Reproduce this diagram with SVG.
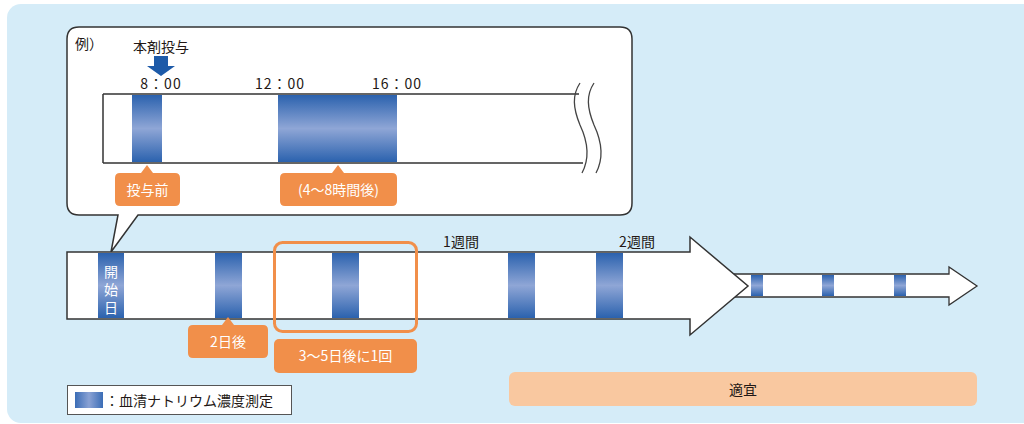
<svg xmlns="http://www.w3.org/2000/svg" width="1024" height="424" viewBox="0 0 1024 424">
<defs>
<linearGradient id="bg" x1="0" y1="0" x2="0" y2="1">
<stop offset="0" stop-color="#2b62ae"/>
<stop offset="0.5" stop-color="#8fa6d6"/>
<stop offset="1" stop-color="#2b62ae"/>
</linearGradient>
<linearGradient id="lg" x1="0" y1="0" x2="1" y2="0">
<stop offset="0" stop-color="#3b6db6"/>
<stop offset="0.5" stop-color="#8aa2d4"/>
<stop offset="1" stop-color="#3b6db6"/>
</linearGradient>
<style>
text{font-family:"Noto Sans CJK JP","Noto Sans",sans-serif;}
.t{fill:#231815;font-size:14px;}
.w{fill:#ffffff;font-size:14px;}
.ln{fill:none;stroke:#333;stroke-width:1.5;}
.seg{fill:url(#bg);}
.lab{fill:#f18f4a;}
</style>
</defs>
<rect x="7" y="4" width="1040" height="419" rx="14" fill="#d5ecf8"/>

<g id="callout">
<path d="M79,27 H620 Q632,27 632,39 V203 Q632,215 620,215 H138 L111,252 L118,215 H79 Q67,215 67,203 V39 Q67,27 79,27 Z" fill="#fff" stroke="#333" stroke-width="1.5"/>
<text x="75" y="49" class="t" font-size="12">例）</text>
</g>

<g id="inner-bar">
<path d="M103,94 H579 C573,100 573,110 580,125 C588,142 588,155 583,163 H103 Z" fill="#fff"/>
<path d="M103,94 H579 M103,163 H583 M103,94 V163" class="ln"/>
<rect x="132" y="95" width="30" height="67" class="seg"/>
<rect x="278" y="95" width="119" height="67" class="seg"/>
<path d="M580,83 C572,95 573,108 580,125 C588,142 590,158 582,173" fill="none" stroke="#444" stroke-width="1.3"/>
<path d="M594,83 C586,95 587,108 594,125 C602,142 604,158 596,173" fill="none" stroke="#444" stroke-width="1.3"/>
</g>

<g id="dose">
<text x="161" y="52" class="t" text-anchor="middle">本剤投与</text>
<path d="M154,56 H168 V66 H175 L161,76 L147,66 H154 Z" fill="#1d5aa8"/>
</g>
<g id="times">
<text x="161" y="89" class="t" text-anchor="middle" letter-spacing="1">8：00</text>
<text x="280" y="89" class="t" text-anchor="middle" letter-spacing="1">12：00</text>
<text x="397" y="89" class="t" text-anchor="middle" letter-spacing="1">16：00</text>
</g>

<g id="label-pre">
<path d="M120,173 H141 L147,165 L153,173 H175 Q180,173 180,178 V201 Q180,206 175,206 H120 Q115,206 115,201 V178 Q115,173 120,173 Z" class="lab"/>
<text x="147.5" y="195" class="w" font-size="15" text-anchor="middle">投与前</text>
</g>
<g id="label-4-8">
<path d="M285,173 H332 L338,165 L344,173 H392 Q397,173 397,178 V201 Q397,206 392,206 H285 Q280,206 280,201 V178 Q280,173 285,173 Z" class="lab"/>
<text x="338.5" y="195" class="w" font-size="15" text-anchor="middle">(4～8時間後)</text>
</g>

<g id="small-arrow">
<path d="M730,274 H949 V267 L977,286 L949,305 V297 H730 Z" fill="#fff" stroke="#333" stroke-width="1.3"/>
<rect x="751" y="275" width="12" height="21" class="seg"/>
<rect x="822" y="275" width="12" height="21" class="seg"/>
<rect x="894" y="275" width="12" height="21" class="seg"/>
</g>

<g id="main-arrow">
<path d="M67,252 H690 V237 L748,286 L690,335 V319 H67 Z" fill="#fff" stroke="#333" stroke-width="1.5"/>
<rect x="98" y="253" width="26" height="65" class="seg"/>
<rect x="215" y="253" width="27" height="65" class="seg"/>
<rect x="332" y="253" width="27" height="65" class="seg"/>
<rect x="508" y="253" width="27" height="65" class="seg"/>
<rect x="596" y="253" width="27" height="65" class="seg"/>
<text x="111" y="277" class="w" font-size="17" text-anchor="middle">開</text>
<text x="111" y="295" class="w" font-size="17" text-anchor="middle">始</text>
<text x="111" y="313" class="w" font-size="17" text-anchor="middle">日</text>
<text x="461" y="247" class="t" text-anchor="middle">1週間</text>
<text x="637" y="247" class="t" text-anchor="middle">2週間</text>
</g>

<g id="box-3-5">
<rect x="274.5" y="242.5" width="142" height="89" rx="8" fill="none" stroke="#f18f4a" stroke-width="3"/>
</g>

<g id="label-2d">
<path d="M193,325 H222 L228,317 L234,325 H263 Q268,325 268,330 V353 Q268,358 263,358 H193 Q188,358 188,353 V330 Q188,325 193,325 Z" class="lab"/>
<text x="228" y="347" class="w" text-anchor="middle">2日後</text>
</g>
<g id="label-3-5">
<rect x="274" y="339" width="143" height="34" rx="5" class="lab"/>
<text x="345.5" y="361" class="w" text-anchor="middle">3～5日後に1回</text>
</g>

<g id="legend">
<rect x="67.5" y="385.5" width="224" height="29" fill="#fff" stroke="#555" stroke-width="1"/>
<rect x="75" y="392" width="28" height="16" fill="url(#lg)"/>
<text x="105" y="406" class="t" font-size="15">：血清ナトリウム濃度測定</text>
</g>

<g id="tekigi">
<rect x="509" y="372" width="468" height="34" rx="6" fill="#f9c8a0"/>
<text x="743" y="395" class="t" font-size="15" text-anchor="middle">適宜</text>
</g>
</svg>
